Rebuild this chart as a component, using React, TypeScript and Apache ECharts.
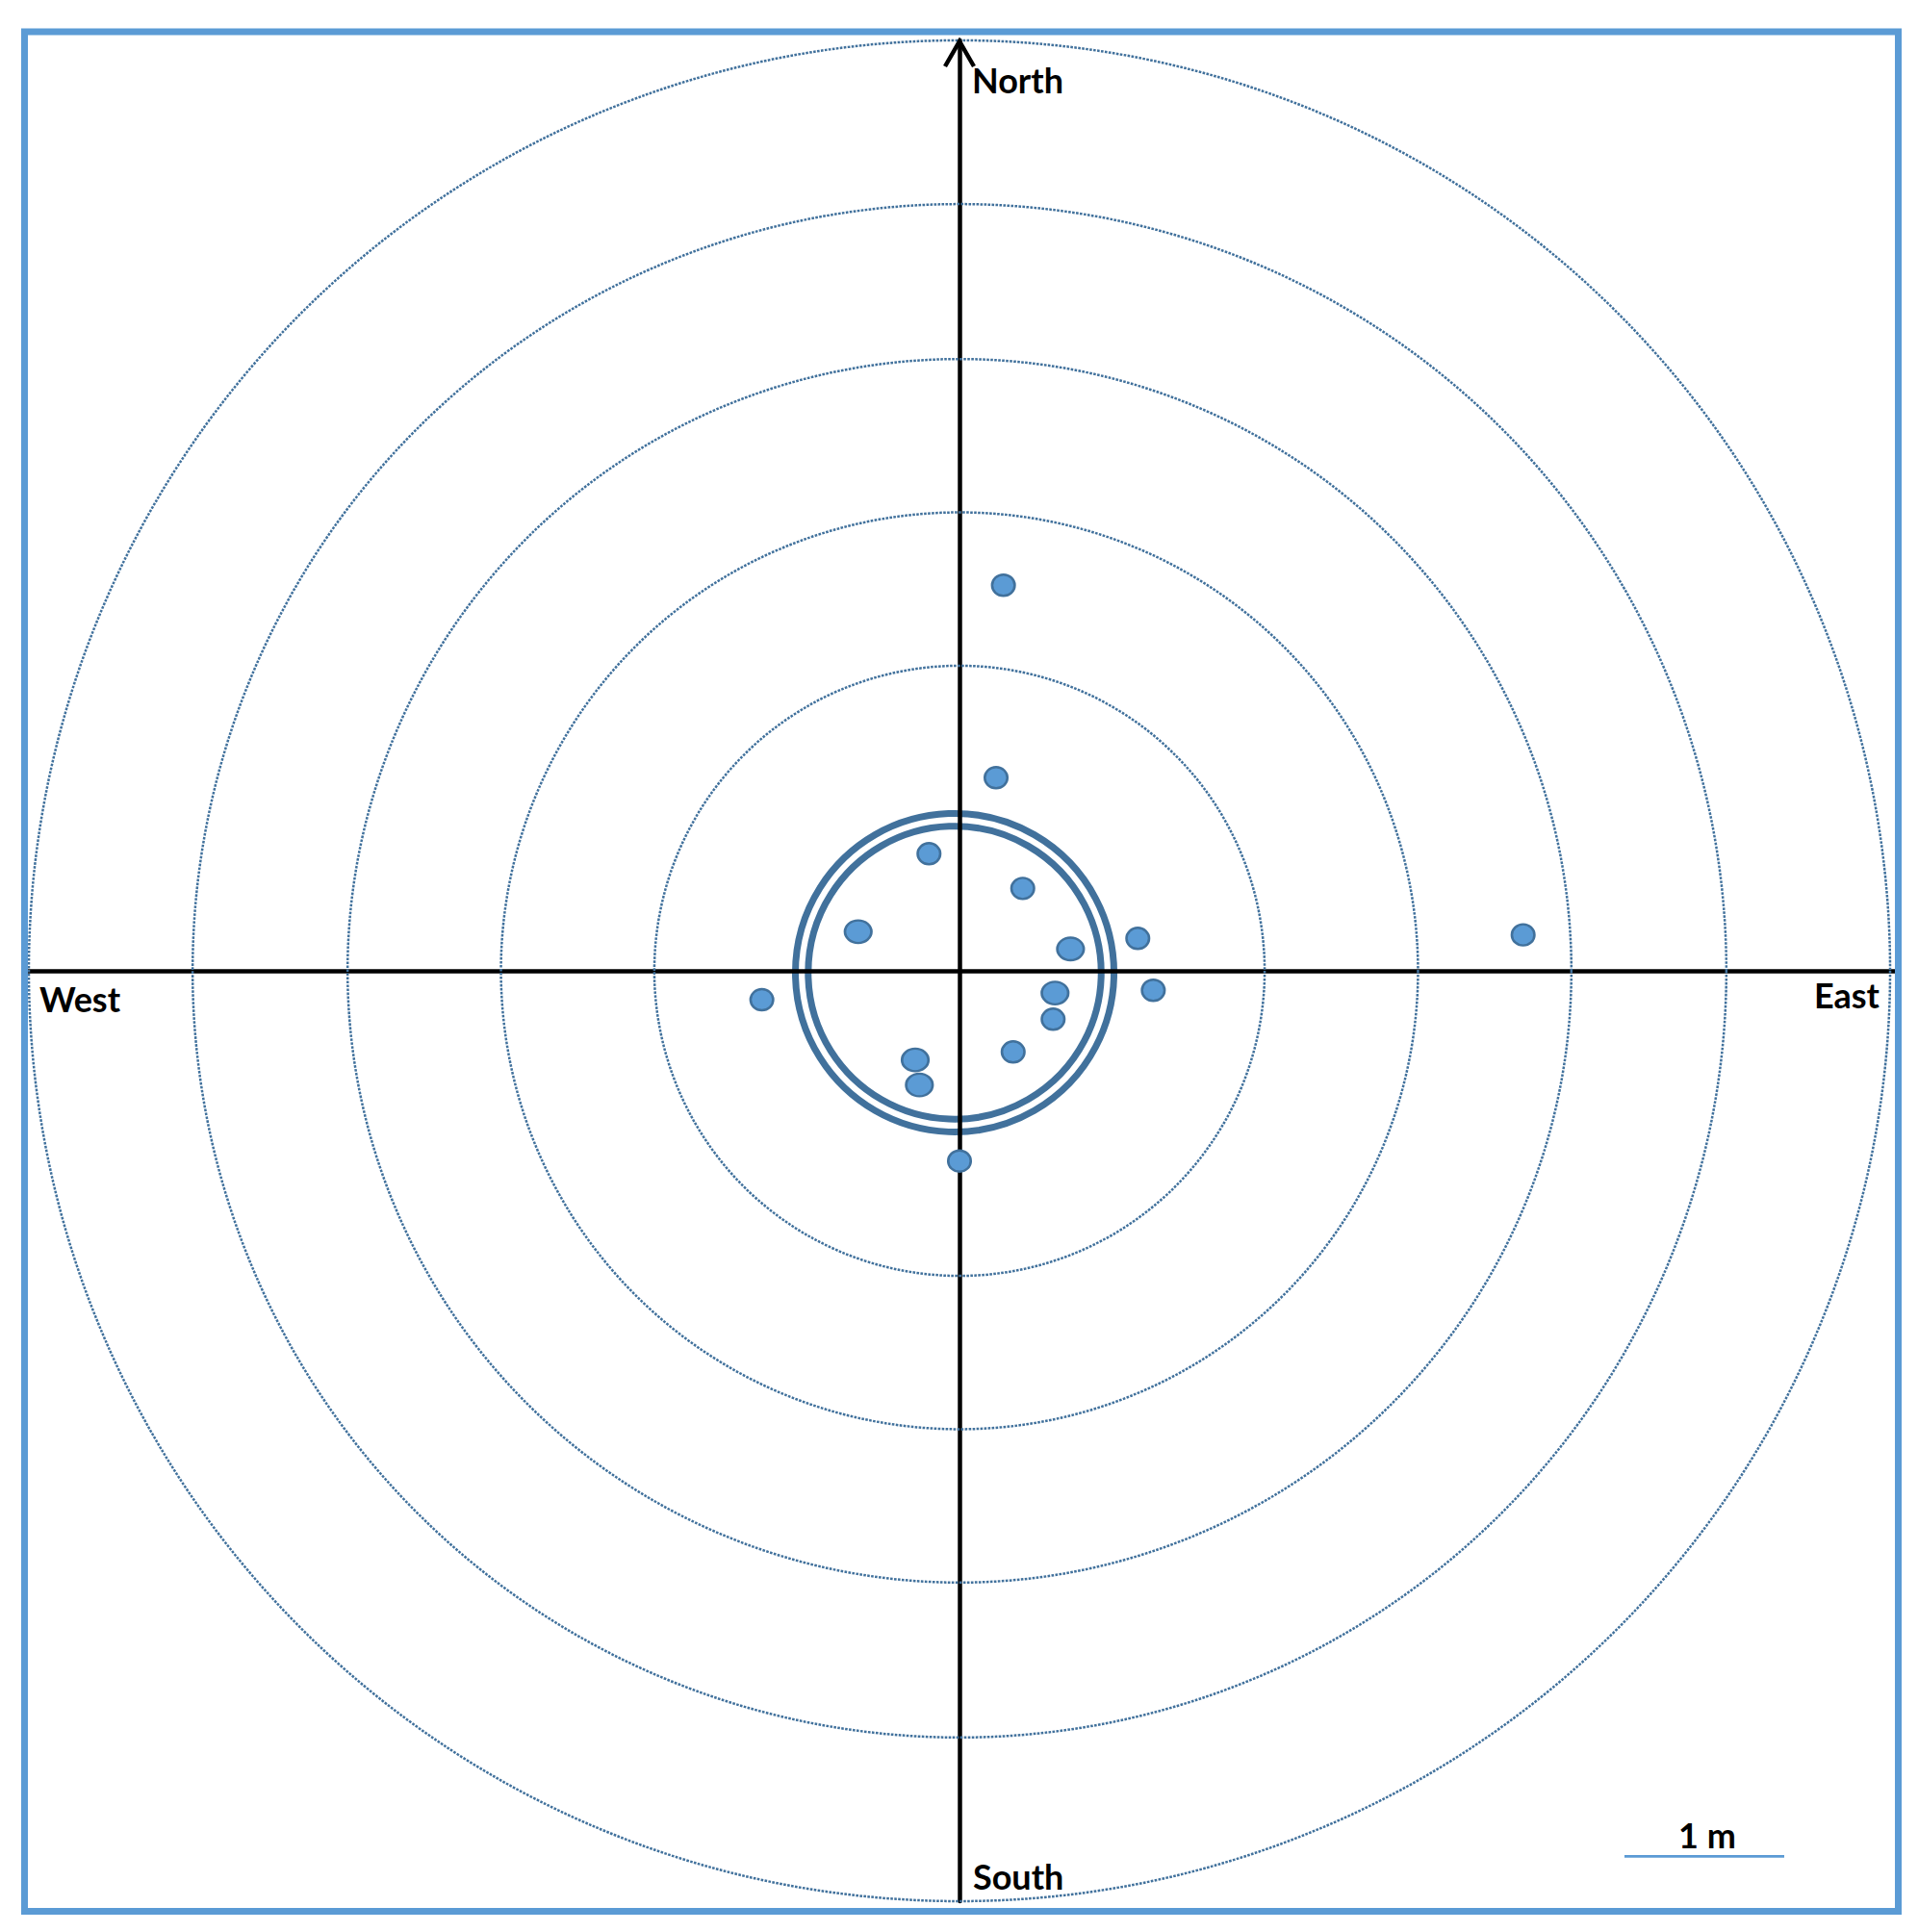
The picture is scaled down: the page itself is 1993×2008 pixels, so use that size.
import React, { useEffect, useRef } from 'react';
import * as echarts from 'echarts';

// All distances in metres (1 m = length of the scale bar); +east / +north of the centre
const RING_RADII_M = [1.91, 2.87, 3.83, 4.8, 5.825];
const TRUNK_CENTER_M = [-0.03, -0.012];
const TRUNK_RADII_M = [0.997, 0.917];
const DOT_EAST_M = [0.275, 0.229, -0.191, 0.396, -0.634, 1.116, 0.695, 3.528, 1.213, 0.598, -1.237, 0.586, 0.336, -0.277, -0.251, 0.0];
const DOT_NORTH_M = [2.414, 1.209, 0.733, 0.516, 0.245, 0.203, 0.137, 0.225, -0.122, -0.139, -0.181, -0.303, -0.508, -0.558, -0.715, -1.191];
const DOT_LARGE = [0, 0, 0, 0, 1, 0, 1, 0, 0, 1, 0, 0, 0, 1, 1, 0];
const LABEL_NORTH = 'North';
const LABEL_SOUTH = 'South';
const LABEL_EAST = 'East';
const LABEL_WEST = 'West';
const SCALE_BAR_M = 1;
const SCALE_BAR_LABEL = '1 m';
const X_HALF_M = 5.855;
const Y_HALF_M = 5.825;

const DARK = '#41719C';
const LIGHT = '#5B9BD5';
const ELLIPSE = 'path://M0,50 A50,50 0 1,1 100,50 A50,50 0 1,1 0,50 Z';
const FONT = 'Lato, "Open Sans", sans-serif';

export default function App() {
  const ref = useRef<HTMLDivElement>(null);
  useEffect(() => {
    if (!ref.current) return;
    const chart = echarts.init(ref.current, null, { renderer: 'svg' });
    const circleItem = (style: any) => (params: any, api: any) => {
      const c = api.coord([api.value(0), api.value(1)]);
      const r = api.size([api.value(2), 0])[0];
      return { type: 'circle', shape: { cx: c[0], cy: c[1], r }, style };
    };
    const axisCommon = {
      type: 'value',
      z: 3,
      axisLine: { show: true, onZero: true, lineStyle: { color: '#000', width: 4.5 } },
      axisTick: { show: false },
      axisLabel: { show: false },
      splitLine: { show: false },
    };
    chart.setOption({
      animation: false,
      backgroundColor: '#fff',
      grid: { left: 25, top: 42, width: 1944, height: 1934, containLabel: false },
      xAxis: { ...axisCommon, min: -X_HALF_M, max: X_HALF_M },
      yAxis: { ...axisCommon, min: -Y_HALF_M, max: Y_HALF_M },
      series: [
        {
          type: 'custom',
          name: 'trunk',
          z: 1,
          silent: true,
          clip: false,
          data: TRUNK_RADII_M.map((r) => [TRUNK_CENTER_M[0], TRUNK_CENTER_M[1], r]),
          renderItem: circleItem({ fill: 'none', stroke: DARK, lineWidth: 7 }),
        },
        {
          type: 'custom',
          name: 'rings',
          z: 4,
          silent: true,
          clip: false,
          data: RING_RADII_M.map((r) => [0, 0, r]),
          renderItem: circleItem({ fill: 'none', stroke: DARK, lineWidth: 2.5, lineDash: [2.6, 1.4] }),
        },
        {
          type: 'custom',
          name: 'arrow',
          z: 4,
          silent: true,
          clip: false,
          data: [[0, Y_HALF_M]],
          renderItem: (params: any, api: any) => {
            const t = api.coord([api.value(0), api.value(1)]);
            return {
              type: 'polyline',
              shape: { points: [[t[0] - 15, t[1] + 27], [t[0], t[1] + 1], [t[0] + 15, t[1] + 27]] },
              style: { stroke: '#000', lineWidth: 4.5, fill: null, lineJoin: 'miter' },
            };
          },
        },
        {
          type: 'scatter',
          name: 'dots',
          z: 5,
          silent: true,
          data: DOT_EAST_M.map((x, i) => [x, DOT_NORTH_M[i], DOT_LARGE[i]]),
          symbol: ELLIPSE,
          symbolSize: (v: number[]) => (v[2] ? [27.5, 23.5] : [23.5, 22]),
          itemStyle: { color: LIGHT, borderColor: DARK, borderWidth: 2.5, opacity: 1 },
        },
      ],
    });
    const p0 = chart.convertToPixel({ gridIndex: 0 }, [0, 0]) as number[];
    const p1 = chart.convertToPixel({ gridIndex: 0 }, [SCALE_BAR_M, 0]) as number[];
    const barLen = p1[0] - p0[0];
    const txt = (text: string, x: number, y: number, align: string) => ({
      type: 'text',
      x,
      y,
      z: 20,
      style: {
        text,
        fill: '#000',
        fontFamily: FONT,
        fontWeight: 'bold',
        fontSize: 36,
        textAlign: align,
        textVerticalAlign: 'middle',
        align,
        verticalAlign: 'middle',
      },
    });
    chart.setOption({
      graphic: [
        {
          type: 'rect',
          z: 30,
          silent: true,
          shape: { x: 25.5, y: 33, width: 1947, height: 1953.5 },
          style: { fill: 'none', stroke: LIGHT, lineWidth: 7 },
        },
        txt(LABEL_NORTH, 1010, 83, 'left'),
        txt(LABEL_SOUTH, 1011, 1950, 'left'),
        txt(LABEL_WEST, 41, 1038, 'left'),
        txt(LABEL_EAST, 1953, 1034, 'right'),
        txt(SCALE_BAR_LABEL, 1774, 1906.5, 'center'),
        {
          type: 'line',
          z: 20,
          silent: true,
          shape: { x1: 1771 - barLen / 2, y1: 1929.3, x2: 1771 + barLen / 2, y2: 1929.3 },
          style: { stroke: LIGHT, lineWidth: 2.7 },
        },
      ],
    });
    return () => chart.dispose();
  }, []);
  return (
    <div
      ref={ref}
      style={{ position: 'absolute', left: 0, top: 0, width: 1993, height: 2008, background: '#fff' }}
    />
  );
}
